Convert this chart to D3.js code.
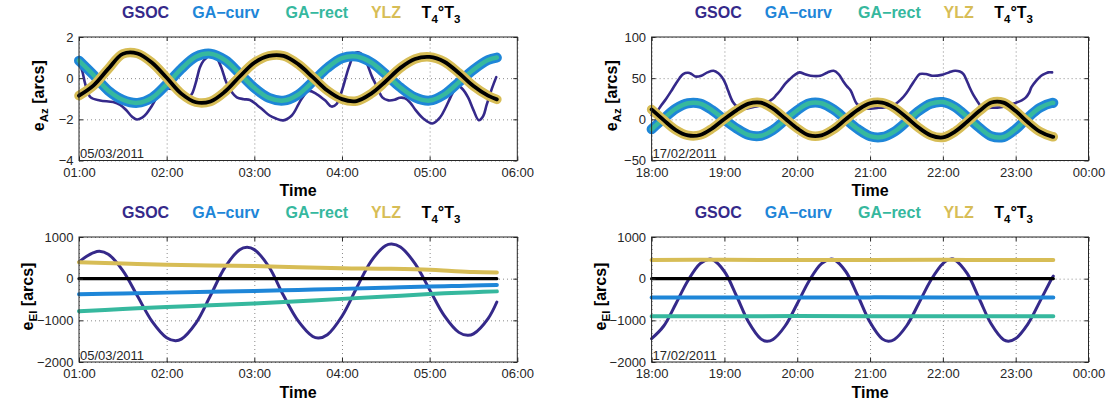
<!DOCTYPE html>
<html><head><meta charset="utf-8">
<script src="https://cdn.jsdelivr.net/npm/d3@7"></script>
<style>
body{margin:0;background:#fff}
svg{display:block;font-family:"Liberation Sans",Arial,Helvetica,sans-serif}
</style>
</head><body>
<svg id="c" width="1112" height="405"></svg>
<script>
// ---------------- data ----------------
const seriesNames = ["GSOC", "GA-curv", "GA-rect", "YLZ", "T4°T3"];

// x tick labels
const xTicksA = [0, 60, 120, 180, 240, 300];            // minutes after 01:00
const xTickLabelsA = ["01:00", "02:00", "03:00", "04:00", "05:00", "06:00"];
const xTicksB = [0, 60, 120, 180, 240, 300, 360];       // minutes after 18:00
const xTickLabelsB = ["18:00", "19:00", "20:00", "21:00", "22:00", "23:00", "00:00"];
const yTicksAz1 = [-4, -2, 0, 2];
const yTicksAz2 = [-50, 0, 50, 100];
const yTicksEl = [-2000, -1000, 0, 1000];
const dateA = "05/03/2011";
const dateB = "17/02/2011";

// ---- Panel 1: e_Az, 05/03/2011 (minutes after 01:00) ----
const az1Time = [0,10,20,30,40,50,60,70,80,90,100,110,120,130,140,150,160,170,180,190,200,210,220,230,240,250,260,270,280,286];
const az1GAcurv = [0.85,0.15,-0.6,-1.05,-1.2,-0.95,-0.3,0.45,1.04,1.19,0.88,0.22,-0.47,-0.96,-1.09,-0.8,-0.17,0.5,0.97,1.05,0.76,0.19,-0.45,-0.93,-1.09,-0.79,-0.2,0.41,0.88,1.0];
const az1GArect = [0.85,0.15,-0.6,-1.05,-1.2,-0.95,-0.3,0.45,1.04,1.19,0.88,0.22,-0.47,-0.96,-1.09,-0.8,-0.17,0.5,0.97,1.05,0.76,0.19,-0.45,-0.93,-1.09,-0.79,-0.2,0.41,0.88,1.0];
const az1YLZ = [-0.85,-0.35,0.45,1.18,1.2,0.75,0.02,-0.75,-1.17,-1.13,-0.65,0.08,0.75,1.08,1.08,0.68,0.05,-0.6,-1.02,-1.11,-0.75,-0.15,0.5,0.93,1.03,0.8,0.25,-0.38,-0.85,-1.03];
const az1T = [-0.85,-0.35,0.45,1.18,1.2,0.75,0.02,-0.75,-1.17,-1.13,-0.65,0.08,0.75,1.08,1.08,0.68,0.05,-0.6,-1.02,-1.11,-0.75,-0.15,0.5,0.93,1.03,0.8,0.25,-0.38,-0.85,-1.03];
const az1GsocTime = [0,2.4,4.2,7.8,14.4,23.4,28.2,32.4,36,39.6,43.2,46.2,49.8,53.4,57,60,63.6,67.2,70.8,73.8,76.8,79.8,82.8,85.2,87.6,90,93.6,97.2,100.8,103.8,108,112.8,117,121.8,126,130.2,134.4,139.8,145.8,150,152.4,157.2,162.6,168.6,172.8,176.4,180,184.8,189,192.6,196.8,200.4,204,207.6,211.8,216,219.6,223.2,226.8,230.4,235.8,241.8,247.2,250.8,253.2,256.8,259.8,262.8,266.4,270,273.6,276.6,279,282.6,285.6];
const az1Gsoc = [0.8,0.3,-0.27,-0.92,-1.08,-1.16,-1.3,-1.56,-1.85,-2.01,-1.92,-1.72,-1.35,-0.92,-0.62,-0.51,-0.52,-0.59,-0.72,-0.84,-0.8,-0.25,0.53,0.85,1.01,1.15,1.05,0.55,-0.2,-0.6,-0.93,-1.02,-1.06,-1.3,-1.55,-1.8,-1.95,-2.05,-1.8,-1.3,-1.0,-0.62,-0.77,-1.09,-1.38,-1.25,-0.6,0.55,1.22,1.22,0.75,0.1,-0.43,-0.93,-1.08,-1.05,-0.95,-0.98,-1.2,-1.55,-1.97,-2.2,-1.9,-1.45,-1.09,-0.6,-0.4,-0.55,-0.95,-1.55,-2.04,-1.85,-1.3,-0.51,0.05];

// ---- Panel 2: e_Az, 17/02/2011 (minutes after 18:00) ----
const az2Time = [0,10,20,30,40,50,60,70,80,90,100,110,120,130,140,150,160,170,180,190,200,210,220,230,240,250,260,270,280,290,300,310,320,330,331];
const az2GAcurv = [-12,1,13,19.5,19,11,-0.5,-11,-19,-20,-13,-1,11,19.5,19.5,12,0,-12,-20.5,-21.5,-15,-3,10,19,21,15,3,-10,-20.5,-21.5,-12,2,14,20,20];
const az2GArect = [-12,1,13,19.5,19,11,-0.5,-11,-19,-20,-13,-1,11,19.5,19.5,12,0,-12,-20.5,-21.5,-15,-3,10,19,21,15,3,-10,-20.5,-21.5,-12,2,14,20,20];
const az2YLZ = [12,-1,-13,-19.5,-19,-11,0.5,11,19,20.2,13,1,-11,-19.5,-19.5,-12,0,11.5,19.5,20.3,14,2.5,-10,-19.5,-22,-15,-3,10,20.5,20.3,10,-3.5,-15,-21,-21.2];
const az2T = [12,-1,-13,-19.5,-19,-11,0.5,11,19,20.2,13,1,-11,-19.5,-19.5,-12,0,11.5,19.5,20.3,14,2.5,-10,-19.5,-22,-15,-3,10,20.5,20.3,10,-3.5,-15,-21,-21.2];
const az2GsocTime = [0,4,8,12,16,19,23,26,30,33,36,41,46,51,55,58,61,63,67,70,73,78,84,92,100,103,106,110,114,118,122,126,131,139,145,150,154,158,161,164,169,173,176,187,198,206,210,214,218,221,226,231,239,245,250,254,257,260,262,265,268,272,280,289,300,305,308,311,313,317,321,325,327,330];
const az2Gsoc = [5,9,17,25,34,41,50,55,56.5,55,52,53,57,59,56,51,43,35,21,16,13,13,15,18,25,30,35,43,49,54,57,55,53,53,57,59,55,46,40,35,19,15,13,14,16,25,32,41,50,55,55,53,54,57,59,58,55,46,39,30,23,15,14,15,20,23,26,32,39,47,53,56,57,57];

// ---- Panel 3: e_El, 05/03/2011 ----
const el1GsocTime = [0,5,10,14,20,30,40,50,60,66,70,80,90,100,110,115,120,130,140,150,160,164,170,180,190,200,210,214,220,230,240,250,260,266,270,280,286];
const el1Gsoc = [400,530,624,656,586,195,-416,-1025,-1418,-1488,-1451,-1066,-405,276,696,752,697,286,-406,-1014,-1388,-1424,-1345,-901,-225,423,797,832,761,361,-264,-887,-1289,-1360,-1325,-957,-560];
const el1Time = [0,30,60,90,120,150,180,210,240,255,270,286];
const el1GAcurv = [-375,-355,-335,-315,-295,-270,-245,-218,-190,-178,-165,-150];
const el1GArect = [-780,-730,-680,-640,-595,-540,-485,-428,-370,-345,-325,-305];
const el1YLZ = [395,365,335,318,304,275,250,238,215,185,160,150];
const el1T = [0,0,0,0,0,0,0,0,0,0,0,0];

// ---- Panel 4: e_El, 17/02/2011 ----
const el2GsocTime = [0,10,20,30,40,48,50,60,70,80,90,95,100,110,120,130,140,148,150,160,170,180,190,195,200,210,220,230,240,247,250,260,270,280,290,294,300,310,320,330,331];
const el2Gsoc = [-1440,-1136,-601,-42,362,470,461,172,-416,-1047,-1445,-1500,-1458,-1136,-601,-42,362,470,461,172,-416,-1047,-1445,-1500,-1458,-1136,-601,-42,362,475,450,125,-482,-1096,-1466,-1500,-1438,-1091,-545,17,60];
const el2Time = [0,60,120,180,240,300,331];
const el2GAcurv = [-452,-450,-452,-449,-451,-452,-452];
const el2GArect = [-900,-902,-898,-900,-902,-899,-900];
const el2YLZ = [448,452,447,450,452,447,448];
const el2T = [0,0,0,0,0,0,0];

// ---------------- drawing ----------------
const colors = ["#35298a", "#1e86d8", "#36b89e", "#d7bd56", "#000000"];
const ink = "#262626";
const svg = d3.select("#c");

function zip(t, v) { return t.map((d, i) => [d, v[i]]); }

function drawPanel(p) {
  const g = svg.append("g");
  const x = d3.scaleLinear().domain(p.xDomain).range([p.x0, p.x1]);
  const y = d3.scaleLinear().domain(p.yDomain).range([p.yBot, p.yTop]);
  const h = p.yBot - p.yTop, w = p.x1 - p.x0;

  // grid (dotted)
  const gx = g.append("g").attr("transform", `translate(0,${p.yBot})`)
    .call(d3.axisBottom(x).tickValues(p.xTicks).tickSize(-h).tickFormat(""));
  const gy = g.append("g").attr("transform", `translate(${p.x0},0)`)
    .call(d3.axisLeft(y).tickValues(p.yTicks).tickSize(-w).tickFormat(""));
  [gx, gy].forEach(a => {
    a.select(".domain").remove();
    a.selectAll("line").attr("stroke", "#8a8a8a").attr("stroke-width", 1).attr("stroke-dasharray", "1,3");
  });

  // series
  const line = d3.line().x(d => x(d[0])).y(d => y(d[1])).curve(d3.curveCatmullRom);
  p.series.forEach((s, i) => {
    g.append("path").datum(zip(s.t, s.v))
      .attr("d", line).attr("fill", "none")
      .attr("stroke", colors[i]).attr("stroke-width", p.widths[i])
      .attr("stroke-linecap", "round").attr("stroke-linejoin", "round");
  });

  // box
  g.append("rect").attr("x", p.x0).attr("y", p.yTop).attr("width", w).attr("height", h)
    .attr("fill", "none").attr("stroke", ink).attr("stroke-width", 1);

  // axes with inward ticks
  const ax = g.append("g").attr("transform", `translate(0,${p.yBot})`)
    .call(d3.axisBottom(x).tickValues(p.xTicks).tickSizeInner(-4).tickSizeOuter(0).tickPadding(7)
      .tickFormat((d, i) => p.xTickLabels[i]));
  const ay = g.append("g").attr("transform", `translate(${p.x0},0)`)
    .call(d3.axisLeft(y).tickValues(p.yTicks).tickSizeInner(-4).tickSizeOuter(0).tickPadding(5.5)
      .tickFormat(d => String(d).replace("-", "\u2212")));
  const at = g.append("g").attr("transform", `translate(0,${p.yTop})`)
    .call(d3.axisTop(x).tickValues(p.xTicks).tickSizeInner(-4).tickSizeOuter(0).tickFormat(""));
  const ar = g.append("g").attr("transform", `translate(${p.x1},0)`)
    .call(d3.axisRight(y).tickValues(p.yTicks).tickSizeInner(-4).tickSizeOuter(0).tickFormat(""));
  [ax, ay, at, ar].forEach(a => {
    a.select(".domain").remove();
    a.selectAll("line").attr("stroke", ink);
    a.selectAll("text").attr("fill", ink).attr("font-size", 13).attr("font-family", "Liberation Sans, Arial, sans-serif");
  });

  // date annotation
  g.append("text").attr("x", p.x0 + 1).attr("y", p.yBot - 2.5).attr("font-size", 13).attr("fill", ink).text(p.date);

  // x label
  g.append("text").attr("x", (p.x0 + p.x1) / 2).attr("y", p.yBot + 35.5).attr("text-anchor", "middle")
    .attr("font-size", 16).attr("font-weight", "bold").attr("fill", "#000").text("Time");

  // y label
  const yl = g.append("text").attr("transform", `translate(${p.x0 - p.ylabOff},${(p.yTop + p.yBot) / 2 - 3}) rotate(-90)`)
    .attr("text-anchor", "middle").attr("font-size", 16).attr("font-weight", "bold").attr("fill", "#000");
  yl.append("tspan").text("e");
  yl.append("tspan").attr("font-size", 11.5).attr("dy", 4).text(p.ysub);
  yl.append("tspan").attr("dy", -4).text(" [arcs]");

  // legend
  const offs = [66.6, 146.8, 237.8, 307, 362];
  const ly = p.yTop - 18.7;
  seriesNames.forEach((n, i) => {
    const t = g.append("text").attr("x", p.x0 + offs[i]).attr("y", ly).attr("text-anchor", "middle")
      .attr("font-size", 16).attr("font-weight", "bold").attr("fill", colors[i]);
    if (i < 4) { t.text(n.replace("-", "\u2212")); }
    else {
      t.append("tspan").text("T");
      t.append("tspan").attr("font-size", 11.5).attr("dy", 4.5).text("4");
      t.append("tspan").attr("dy", -4.5).text("°T");
      t.append("tspan").attr("font-size", 11.5).attr("dy", 4.5).text("3");
    }
  });
}

const azW = [2.6, 10, 4.5, 9.5, 3.8];
const elW = [3, 4, 4, 4, 3.2];

drawPanel({x0: 79, x1: 517.3, yTop: 37, yBot: 160.5, xDomain: [0, 300], yDomain: [-4, 2], ylabOff: 35,
  xTicks: xTicksA, xTickLabels: xTickLabelsA, yTicks: yTicksAz1, date: dateA, ysub: "Az", widths: azW,
  series: [{t: az1GsocTime, v: az1Gsoc}, {t: az1Time, v: az1GAcurv}, {t: az1Time, v: az1GArect}, {t: az1Time, v: az1YLZ}, {t: az1Time, v: az1T}]});
drawPanel({x0: 651.6, x1: 1088.5, yTop: 37, yBot: 160.5, xDomain: [0, 360], yDomain: [-50, 100], ylabOff: 35,
  xTicks: xTicksB, xTickLabels: xTickLabelsB, yTicks: yTicksAz2, date: dateB, ysub: "Az", widths: azW,
  series: [{t: az2GsocTime, v: az2Gsoc}, {t: az2Time, v: az2GAcurv}, {t: az2Time, v: az2GArect}, {t: az2Time, v: az2YLZ}, {t: az2Time, v: az2T}]});
drawPanel({x0: 79, x1: 517.3, yTop: 237, yBot: 362, xDomain: [0, 300], yDomain: [-2000, 1000], ylabOff: 46,
  xTicks: xTicksA, xTickLabels: xTickLabelsA, yTicks: yTicksEl, date: dateA, ysub: "El", widths: elW,
  series: [{t: el1GsocTime, v: el1Gsoc}, {t: el1Time, v: el1GAcurv}, {t: el1Time, v: el1GArect}, {t: el1Time, v: el1YLZ}, {t: el1Time, v: el1T}]});
drawPanel({x0: 651.6, x1: 1088.5, yTop: 237, yBot: 362, xDomain: [0, 360], yDomain: [-2000, 1000], ylabOff: 46,
  xTicks: xTicksB, xTickLabels: xTickLabelsB, yTicks: yTicksEl, date: dateB, ysub: "El", widths: elW,
  series: [{t: el2GsocTime, v: el2Gsoc}, {t: el2Time, v: el2GAcurv}, {t: el2Time, v: el2GArect}, {t: el2Time, v: el2YLZ}, {t: el2Time, v: el2T}]});
</script>
</body></html>
